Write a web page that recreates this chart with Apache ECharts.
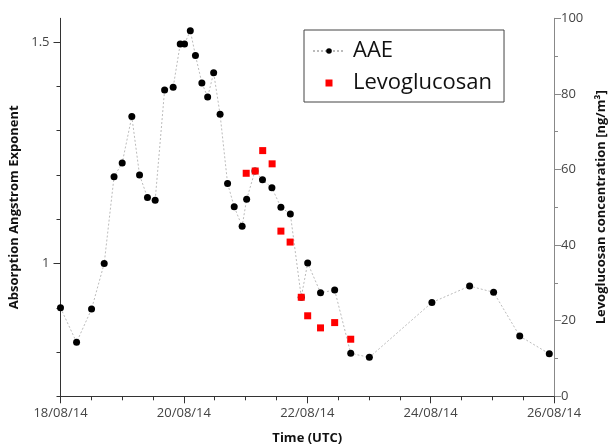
<!DOCTYPE html>
<html>
<head>
<meta charset="utf-8">
<script src="https://cdn.jsdelivr.net/npm/echarts@6/dist/echarts.min.js"></script>
<style>
html,body{margin:0;padding:0;background:#fff;}
#chart{width:608px;height:446px;}
</style>
</head>
<body>
<div id="chart"></div>
<script>
// AAE sample times (UTC) and values
var aaeTimes = [
  '2014-08-18 00:00','2014-08-18 06:15','2014-08-18 12:05','2014-08-18 17:00','2014-08-18 20:50',
  '2014-08-19 00:00','2014-08-19 03:45','2014-08-19 06:45','2014-08-19 09:50','2014-08-19 12:50',
  '2014-08-19 16:30','2014-08-19 19:50','2014-08-19 22:35','2014-08-20 00:15','2014-08-20 02:30',
  '2014-08-20 04:30','2014-08-20 07:00','2014-08-20 09:15','2014-08-20 11:35','2014-08-20 14:05',
  '2014-08-20 17:00','2014-08-20 19:35','2014-08-20 22:40','2014-08-21 00:25','2014-08-21 03:40',
  '2014-08-21 06:35','2014-08-21 10:15','2014-08-21 13:45','2014-08-21 17:25','2014-08-21 21:40',
  '2014-08-22 00:10','2014-08-22 05:10','2014-08-22 10:40','2014-08-22 16:55','2014-08-23 00:10',
  '2014-08-24 00:30','2014-08-24 15:10','2014-08-25 00:30','2014-08-25 10:40','2014-08-25 22:10'
];
var aaeValues = [
  0.900,0.822,0.897,1.000,1.196,
  1.227,1.332,1.200,1.149,1.143,
  1.392,1.398,1.496,1.496,1.526,
  1.470,1.408,1.376,1.431,1.337,
  1.181,1.128,1.084,1.145,1.209,
  1.189,1.171,1.127,1.112,0.924,
  1.001,0.934,0.940,0.797,0.788,
  0.912,0.949,0.935,0.836,0.796
];
// Levoglucosan sample times (UTC) and concentrations [ng/m3]
var levoTimes = [
  '2014-08-21 00:15','2014-08-21 03:45','2014-08-21 06:40','2014-08-21 10:20','2014-08-21 13:45',
  '2014-08-21 17:20','2014-08-21 21:40','2014-08-22 00:10','2014-08-22 05:10','2014-08-22 10:40',
  '2014-08-22 16:55'
];
var levoValues = [59.0,59.6,65.0,61.5,43.7,40.8,26.2,21.3,18.1,19.5,15.1];

var aaeMajorTicks = [1, 1.5];
var aaeMinorTicks = [0.7,0.8,0.9,1.0,1.1,1.2,1.3,1.4,1.5];
var timeStart = '2014-08-18 00:00';
var timeEnd = '2014-08-26 00:00';

function toMs(s){ return Date.parse(s.replace(' ','T') + ':00Z'); }
function pad(n){ return (n<10?'0':'') + n; }
function fmtDate(v){
  var d = new Date(v);
  return pad(d.getUTCDate()) + '/' + pad(d.getUTCMonth()+1) + '/' + pad(d.getUTCFullYear()%100);
}
var DAY = 86400000;
var aaeData = aaeTimes.map(function(t,i){ return [toMs(t), aaeValues[i]]; });
var levoData = levoTimes.map(function(t,i){ return [toMs(t), levoValues[i]]; });

var FONT = 'Open Sans';
var chart = echarts.init(document.getElementById('chart'), null, {renderer:'canvas'});
chart.setOption({
  animation:false,
  backgroundColor:'#fff',
  textStyle:{fontFamily:FONT},
  grid:{left:60.5, right:54, top:18.3, bottom:49.7, containLabel:false, outerBoundsMode:'none'},
  legend:{
    left:304, top:30,
    orient:'vertical',
    padding:[9,12,7,8],
    itemGap:8,
    itemWidth:32, itemHeight:7,
    symbolKeepAspect:true,
    borderColor:'#444', borderWidth:1, borderRadius:0,
    backgroundColor:'#fff',
    textStyle:{fontFamily:FONT, fontSize:22, color:'#111', lineHeight:24, padding:[0,0,0,3]},
    data:[{name:'AAE'},{name:'Levoglucosan', icon:'path://M0,0L10,0L10,10L0,10Z'}]
  },
  xAxis:{
    type:'value',
    min:toMs(timeStart), max:toMs(timeEnd), interval:2*DAY,
    axisLine:{show:true, onZero:false, lineStyle:{color:'#333', width:1}},
    axisTick:{show:true, length:7, inside:false, lineStyle:{color:'#333'}},
    minorTick:{show:true, splitNumber:4, length:4, lineStyle:{color:'#333'}},
    axisLabel:{formatter:fmtDate, color:'#444', fontSize:13, margin:10, fontFamily:FONT},
    splitLine:{show:false},
    name:'Time (UTC)', nameLocation:'middle', nameGap:35,
    nameTextStyle:{fontWeight:'bold', fontSize:13, color:'#111', fontFamily:FONT}
  },
  yAxis:[
    {
      type:'value', position:'left', min:0.7, max:1.554,
      axisLine:{show:true, onZero:false, lineStyle:{color:'#333'}},
      axisTick:{show:true, length:7, customValues:aaeMajorTicks, lineStyle:{color:'#333'}},
      axisLabel:{customValues:aaeMajorTicks, color:'#444', fontSize:13, margin:11, fontFamily:FONT,
        formatter:function(v){ return String(v); }},
      splitLine:{show:false},
      name:'Absorption Angstrom Exponent', nameLocation:'middle', nameGap:35,
      nameTextStyle:{fontWeight:'bold', fontSize:13, color:'#111', fontFamily:FONT}
    },
    {
      type:'value', position:'right', min:0, max:100, interval:20,
      axisLine:{show:true, onZero:false, lineStyle:{color:'#888'}},
      axisTick:{show:true, length:7, inside:false, lineStyle:{color:'#888'}},
      minorTick:{show:true, splitNumber:2, length:4, lineStyle:{color:'#888'}},
      axisLabel:{color:'#444', fontSize:13, margin:7, fontFamily:FONT},
      splitLine:{show:false},
      name:'Levoglucosan concentration [ng/m³]', nameLocation:'middle', nameGap:41,
      nameRotate:90,
      nameTextStyle:{fontWeight:'bold', fontSize:13, color:'#111', fontFamily:FONT}
    },
    {
      type:'value', position:'left', min:0.7, max:1.554,
      axisLine:{show:false},
      axisTick:{show:true, length:4, customValues:aaeMinorTicks, lineStyle:{color:'#333'}},
      axisLabel:{show:false},
      splitLine:{show:false}
    }
  ],
  series:[
    {
      name:'AAE', type:'line', yAxisIndex:0, data:aaeData,
      symbol:'circle', symbolSize:7, showAllSymbol:true,
      itemStyle:{color:'#000'},
      lineStyle:{color:'#bbb', width:1, type:[2,2]},
      emphasis:{disabled:true}, z:2
    },
    {
      name:'Levoglucosan', type:'scatter', yAxisIndex:1, data:levoData,
      symbol:'rect', symbolSize:7,
      itemStyle:{color:'#ff0000', opacity:1},
      emphasis:{disabled:true}, z:3
    }
  ]
});
</script>
</body>
</html>
